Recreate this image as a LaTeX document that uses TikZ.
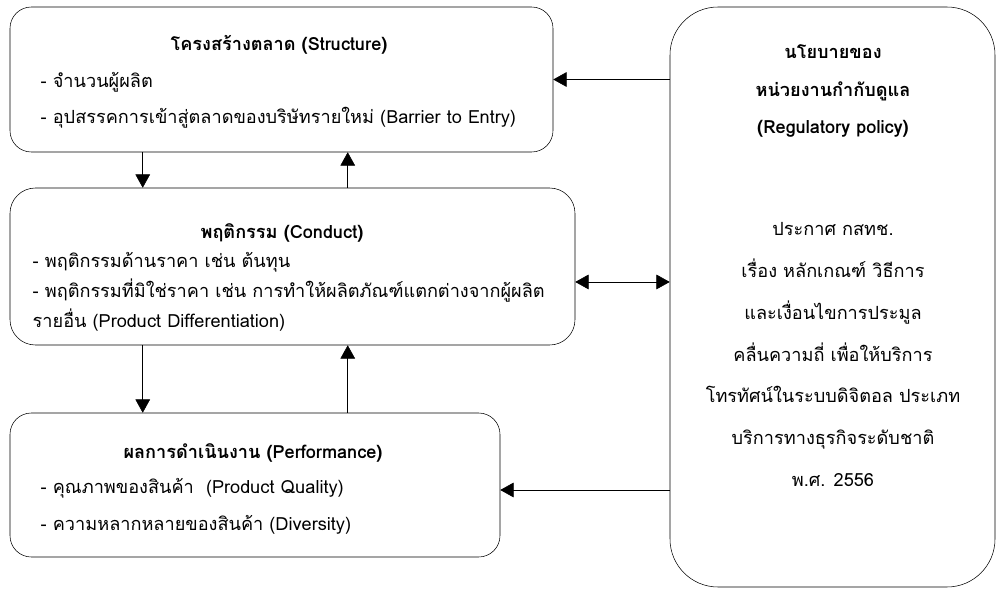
\documentclass[tikz,border=0pt]{standalone}
\usepackage{fontspec}
\newfontfamily\thaifont[Script=Thai]{Loma}
\usetikzlibrary{arrows.meta,fit,positioning}
\tikzset{
    -{Triangle[length=10pt,width=11pt]}, line width=1.4pt,
    box/.style = {draw, rounded corners=16pt, inner sep=0pt},
    policy/.style = {draw, rounded corners=36pt, inner sep=0pt},
    head/.style = {font=\thaifont\bfseries\fontsize{13.6}{#1}\selectfont, align=center},
    head/.default = 28pt,
    body/.style = {font=\thaifont\fontsize{13.6}{#1}\selectfont, align=left, anchor=west},
    body/.default = 27pt,
    note/.style = {font=\thaifont\fontsize{13.6}{31.4pt}\selectfont, align=center},
    bidirected/.style = {{Triangle[length=10pt,width=11pt]}-{Triangle[length=10pt,width=11pt]}}
}
\begin{document}
\begin{tikzpicture}[x=0.75pt, y=-0.75pt]
    \useasboundingbox (0,0) rectangle (997,589);
    % boxes
    \node[box, fit={(10,7) (553,152)}] (struct) {};
    \node[box, rounded corners=19pt, fit={(10,188) (575,345)}] (conduct) {};
    \node[box, fit={(10,413) (500,557)}] (perf) {};
    \node[policy, fit={(670,7) (995,587)}] (policy) {};

    % texts
    \node[head] (structT) at (279,45) {โครงสร้างตลาด (Structure)};
    \node[body] (structB) at (36,100) {- จำนวนผู้ผลิต\\- อุปสรรคการเข้าสู่ตลาดของบริษัทรายใหม่ (Barrier to Entry)};
    \node[head] (conductT) at (282,233) {พฤติกรรม (Conduct)};
    \node[body=22.5pt] (conductB) at (28,292) {- พฤติกรรมด้านราคา เช่น ต้นทุน\\- พฤติกรรมที่มิใช่ราคา เช่น การทำให้ผลิตภัณฑ์แตกต่างจากผู้ผลิต\\รายอื่น (Product Differentiation)};
    \node[head] (perfT) at (253,453) {ผลการดำเนินงาน (Performance)};
    \node[body=27.75pt] (perfB) at (36,506.5) {- คุณภาพของสินค้า~~(Product Quality)\\- ความหลากหลายของสินค้า (Diversity)};
    \node[head] (policyT) at (833,91) {นโยบายของ\\หน่วยงานกำกับดูแล\\(Regulatory policy)};
    \node[note] (policyB) at (833,354.5) {ประกาศ กสทช.\\เรื่อง หลักเกณฑ์ วิธีการ\\และเงื่อนไขการประมูล\\คลื่นความถี่ เพื่อให้บริการ\\โทรทัศน์ในระบบดิจิตอล ประเภท\\บริการทางธุรกิจระดับชาติ\\พ.ศ. 2556};

    % arrows
    \draw ([xshift=99.75pt]struct.south west) -- ([xshift=99.75pt]conduct.north west);
    \draw ([xshift=253.5pt]conduct.north west) -- ([xshift=253.5pt]struct.south west);
    \draw ([xshift=99.75pt]conduct.south west) -- ([xshift=99.75pt]perf.north west);
    \draw ([xshift=253.5pt]perf.north west) -- ([xshift=253.5pt]conduct.south west);
    \draw (policy.west |- struct.east) -- (struct.east);
    \draw[bidirected] ([yshift=-11.6pt]conduct.east) -- ([yshift=-11.6pt]conduct.east -| policy.west);
    \draw ([yshift=-3.75pt]perf.east -| policy.west) -- ([yshift=-3.75pt]perf.east);
\end{tikzpicture}
\end{document}
